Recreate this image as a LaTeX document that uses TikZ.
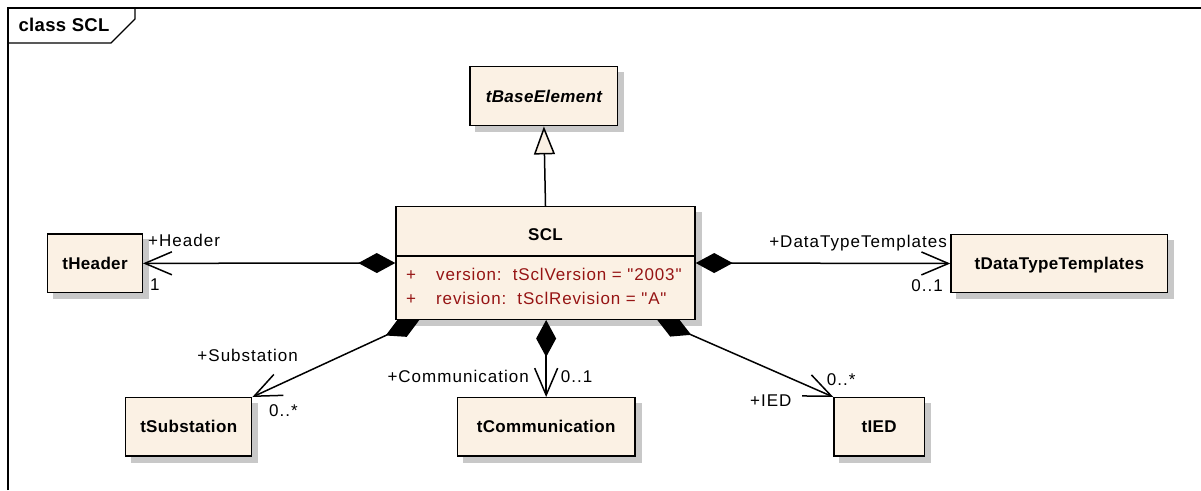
\documentclass[tikz,border=0pt]{standalone}
\usepackage{fontspec}
\setmainfont{Liberation Sans}[Ligatures=TeXOff]
\usetikzlibrary{arrows.meta,calc}
\pgfdeclarelayer{shadow}
\pgfdeclarelayer{lines}
\pgfsetlayers{shadow,lines,main}
\definecolor{boxfill}{RGB}{251,241,228}
\definecolor{shadowgray}{RGB}{200,200,200}
\definecolor{attrred}{RGB}{150,20,20}
\newcommand{\lblfont}{\fontsize{17}{20}\selectfont\addfontfeatures{LetterSpace=6}}
\newcommand{\attrfont}{\fontsize{17}{20}\selectfont\addfontfeatures{LetterSpace=5}}
\newcommand{\clsfont}{\fontsize{17}{20}\selectfont\bfseries\addfontfeatures{LetterSpace=2}}
\newcommand{\titlefont}{\fontsize{18.5}{20}\selectfont\bfseries\addfontfeatures{LetterSpace=2}}
\newcommand{\dq}{\symbol{34}}
\begin{document}
\begin{tikzpicture}[x=1pt,y=-1pt,
  classbox/.style={draw=black,line width=1.4pt,fill=boxfill,inner sep=0pt,
    font=\clsfont,text height=15.5pt,text depth=3.5pt},
  lbl/.style={font=\lblfont,inner sep=0pt},
  attr/.style={font=\attrfont,text=attrred,inner sep=0pt},
  conn/.style={line width=1.5pt},
  comp/.style={conn,{Diamond[length=37pt,width=20pt]}-{Straight Barb[length=27pt,width=23pt]}},
  gen/.style={conn,-{Triangle[length=28pt,width=21pt,fill=boxfill]}}]
\useasboundingbox (0,0) rectangle (1201,490);
% frame
\draw[line width=1.3pt] (8,490) -- (8,8) -- (1201,8);
\draw[line width=1.3pt] (8,43) -- (111,43) -- (135,19) -- (135,8);
\node[anchor=base west,font=\titlefont,inner sep=0pt] (title) at (18.3,31.7) {class SCL};
% classes
\node[classbox,minimum width=147.7pt,minimum height=59pt] (base) at (543.9,96.2) {\itshape tBaseElement};
\node[classbox,minimum width=299pt,minimum height=112.6pt] (scl) at (545.5,263) {};
\node[classbox,minimum width=94.6pt,minimum height=58.7pt] (header) at (95,263.35) {tHeader};
\node[classbox,minimum width=216.7pt,minimum height=58.4pt] (dtt) at (1059.35,263.5) {tDataTypeTemplates};
\node[classbox,minimum width=126pt,minimum height=58.3pt] (sub) at (188.7,426.85) {tSubstation};
\node[classbox,minimum width=177.7pt,minimum height=58.3pt] (comm) at (546.15,426.85) {tCommunication};
\node[classbox,minimum width=90.3pt,minimum height=58.3pt] (ied) at (879.15,426.85) {tIED};
% SCL contents
\node[font=\clsfont,inner sep=0pt,anchor=base] (scltitle) at (545.5,240) {SCL};
\coordinate (sep) at (0,256);
\draw[line width=1.4pt] (scl.west |- sep) -- (scl.east |- sep);
\node[attr,anchor=base west] (a1p) at (406,280) {+};
\node[attr,anchor=base west] (a1) at (436,280) {version:\ \ tSclVersion = \dq 2003\dq};
\node[attr,anchor=base west] (a2p) at (406,304) {+};
\node[attr,anchor=base west] (a2) at (436,304) {revision:\ \ tSclRevision = \dq A\dq};
% shadows
\begin{pgfonlayer}{shadow}
\foreach \n in {base,scl,header,dtt,sub,comm,ied}
  \fill[shadowgray] ($(\n.south west)+(6,6)$) rectangle ($(\n.north east)+(6,6)$);
\end{pgfonlayer}
% connectors
\coordinate (sclsub) at ($(scl.south west)+(24,0)$);
\coordinate (sclied) at ($(scl.south west)+(262,0)$);
\begin{pgfonlayer}{lines}
\draw[gen] (scl.north) -- (base.south);
\draw[comp] (scl.west) -- (header.east);
\draw[comp] (scl.east) -- (dtt.west);
\draw[comp] (comm.north |- scl.south) -- (comm.north);
\draw[comp] (sclsub) -- (sub.north east);
\draw[comp] (sclied) -- (ied.north west);
\end{pgfonlayer}
% labels
\node[lbl,anchor=base west] (lh) at (148,246.7) {+Header};
\node[lbl,anchor=base west] (lh1) at (150,290) {1};
\node[lbl,anchor=base east] (ld) at (947,247.7) {+DataTypeTemplates};
\node[lbl,anchor=base east] (ld1) at (943,291) {0..1};
\node[lbl,anchor=base] (ls) at (247.7,361) {+Substation};
\node[lbl,anchor=base west] (ls1) at (269,416) {0..*};
\node[lbl,anchor=base east] (lc) at (529,382) {+Communication};
\node[lbl,anchor=base west] (lc1) at (560.7,382) {0..1};
\node[lbl,anchor=base west] (li1) at (826.7,385) {0..*};
\node[lbl,anchor=base east] (li) at (791.7,406.7) {+IED};
\end{tikzpicture}
\end{document}
